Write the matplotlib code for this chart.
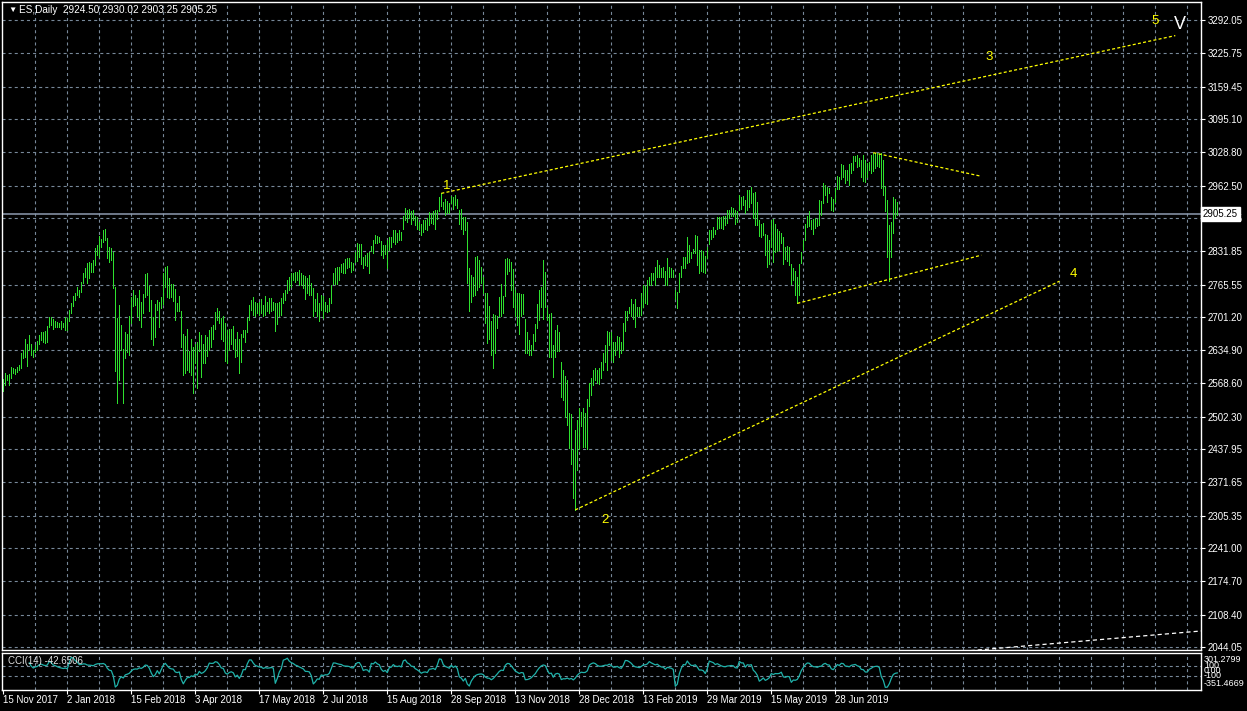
import numpy as np
import matplotlib
matplotlib.use('Agg')
import matplotlib.pyplot as plt
from matplotlib.transforms import blended_transform_factory

plt.rcParams['font.family'] = ['Liberation Sans', 'DejaVu Sans']
plt.rcParams['lines.scale_dashes'] = False

# ES Daily - highs / lows (une barre par séance)
highs = [
    2577, 2589, 2585, 2587, 2601, 2599, 2597, 2602, 2605, 2629, 2635, 2658, 2648, 2665, 2648, 2635,
    2645, 2653, 2665, 2672, 2672, 2674, 2683, 2700, 2700, 2696, 2692, 2690, 2688, 2692, 2688, 2700,
    2698, 2715, 2729, 2743, 2749, 2760, 2755, 2771, 2788, 2798, 2808, 2811, 2808, 2814, 2838, 2844,
    2862, 2856, 2874, 2877, 2858, 2841, 2838, 2831, 2761, 2698, 2725, 2685, 2637, 2672, 2667, 2702,
    2741, 2755, 2745, 2738, 2755, 2731, 2747, 2786, 2789, 2763, 2735, 2700, 2727, 2735, 2731, 2741,
    2789, 2800, 2802, 2778, 2767, 2767, 2756, 2728, 2743, 2712, 2668, 2663, 2678, 2634, 2658, 2642,
    2648, 2652, 2672, 2665, 2648, 2665, 2662, 2675, 2682, 2685, 2711, 2718, 2713, 2698, 2702, 2688,
    2675, 2678, 2678, 2683, 2658, 2672, 2658, 2668, 2676, 2675, 2698, 2725, 2735, 2740, 2731, 2728,
    2731, 2736, 2725, 2743, 2731, 2738, 2738, 2731, 2728, 2728, 2731, 2738, 2748, 2755, 2775, 2781,
    2789, 2789, 2791, 2791, 2795, 2788, 2785, 2783, 2778, 2785, 2768, 2758, 2736, 2748, 2728, 2745,
    2743, 2731, 2725, 2738, 2765, 2788, 2798, 2800, 2801, 2806, 2808, 2816, 2818, 2818, 2811, 2808,
    2831, 2849, 2846, 2846, 2821, 2824, 2828, 2831, 2842, 2854, 2864, 2862, 2861, 2852, 2844, 2844,
    2854, 2860, 2860, 2875, 2874, 2869, 2874, 2871, 2901, 2917, 2914, 2915, 2911, 2913, 2901, 2899,
    2891, 2887, 2893, 2894, 2897, 2909, 2907, 2911, 2913, 2914, 2940, 2947, 2930, 2935, 2932, 2928,
    2942, 2939, 2944, 2935, 2914, 2915, 2899, 2899, 2891, 2798, 2785, 2780, 2820, 2822, 2814, 2800,
    2781, 2748, 2748, 2723, 2692, 2707, 2705, 2702, 2740, 2767, 2743, 2816, 2818, 2816, 2811, 2796,
    2755, 2748, 2748, 2747, 2747, 2696, 2672, 2655, 2645, 2668, 2687, 2727, 2755, 2761, 2814, 2790,
    2721, 2707, 2708, 2645, 2675, 2684, 2672, 2612, 2595, 2583, 2575, 2509, 2507, 2436, 2476, 2496,
    2519, 2512, 2519, 2509, 2537, 2569, 2579, 2595, 2599, 2595, 2599, 2612, 2629, 2645, 2674, 2672,
    2672, 2652, 2652, 2663, 2662, 2652, 2688, 2713, 2713, 2721, 2736, 2727, 2736, 2721, 2721, 2748,
    2765, 2763, 2774, 2781, 2789, 2789, 2801, 2814, 2804, 2798, 2801, 2793, 2818, 2800, 2798, 2794,
    2755, 2751, 2788, 2802, 2821, 2821, 2860, 2844, 2831, 2836, 2865, 2863, 2834, 2834, 2833, 2822,
    2840, 2875, 2874, 2881, 2875, 2899, 2899, 2899, 2902, 2901, 2914, 2914, 2920, 2917, 2914, 2912,
    2944, 2940, 2942, 2934, 2954, 2954, 2960, 2948, 2950, 2930, 2894, 2886, 2889, 2867, 2864, 2855,
    2893, 2895, 2887, 2877, 2873, 2869, 2860, 2841, 2842, 2841, 2806, 2798, 2793, 2781, 2806, 2831,
    2854, 2886, 2902, 2912, 2894, 2895, 2897, 2895, 2934, 2932, 2968, 2964, 2960, 2957, 2939, 2935,
    2957, 2981, 2980, 3005, 3003, 2993, 2993, 3005, 3008, 3021, 3021, 3023, 3017, 3013, 3023, 3013,
    3008, 3010, 3023, 3028, 3028, 3027, 3025, 3027, 3013, 2962, 2934, 2884, 2891, 2939, 2935, 2930.02,
]
lows = [
    2554, 2566, 2575, 2566, 2579, 2589, 2587, 2592, 2595, 2599, 2619, 2622, 2604, 2635, 2625, 2622,
    2632, 2635, 2648, 2655, 2652, 2650, 2652, 2682, 2685, 2678, 2682, 2682, 2682, 2678, 2682, 2676,
    2675, 2692, 2708, 2723, 2735, 2745, 2741, 2751, 2768, 2781, 2768, 2778, 2791, 2791, 2804, 2824,
    2821, 2841, 2851, 2854, 2818, 2811, 2814, 2758, 2594, 2529, 2576, 2635, 2529, 2619, 2632, 2625,
    2688, 2722, 2725, 2702, 2695, 2682, 2708, 2741, 2745, 2713, 2658, 2645, 2662, 2715, 2682, 2718,
    2727, 2761, 2741, 2738, 2741, 2733, 2695, 2712, 2712, 2641, 2586, 2590, 2595, 2592, 2586, 2550,
    2609, 2559, 2634, 2582, 2609, 2610, 2623, 2635, 2642, 2658, 2678, 2695, 2688, 2658, 2654, 2614,
    2609, 2635, 2648, 2637, 2622, 2623, 2590, 2612, 2662, 2652, 2672, 2695, 2715, 2705, 2702, 2708,
    2705, 2708, 2702, 2705, 2712, 2708, 2712, 2715, 2674, 2687, 2702, 2705, 2728, 2735, 2748, 2755,
    2761, 2775, 2771, 2775, 2765, 2765, 2758, 2736, 2748, 2745, 2745, 2702, 2712, 2702, 2692, 2715,
    2698, 2712, 2710, 2712, 2729, 2767, 2767, 2767, 2775, 2791, 2788, 2789, 2798, 2801, 2791, 2794,
    2811, 2813, 2821, 2806, 2798, 2804, 2802, 2789, 2833, 2828, 2848, 2849, 2851, 2824, 2818, 2826,
    2798, 2834, 2841, 2851, 2846, 2851, 2854, 2854, 2877, 2894, 2891, 2897, 2887, 2894, 2884, 2877,
    2874, 2864, 2871, 2877, 2874, 2884, 2889, 2886, 2877, 2895, 2911, 2922, 2915, 2904, 2907, 2907,
    2927, 2915, 2924, 2917, 2887, 2877, 2866, 2874, 2768, 2712, 2731, 2743, 2745, 2755, 2761, 2768,
    2748, 2688, 2650, 2658, 2625, 2599, 2630, 2680, 2702, 2702, 2708, 2743, 2786, 2793, 2755, 2721,
    2702, 2685, 2668, 2702, 2707, 2630, 2630, 2625, 2625, 2635, 2654, 2680, 2695, 2721, 2696, 2721,
    2695, 2621, 2622, 2581, 2622, 2634, 2634, 2542, 2536, 2502, 2486, 2440, 2408, 2340, 2317, 2396,
    2438, 2483, 2443, 2443, 2438, 2524, 2546, 2566, 2575, 2569, 2568, 2579, 2595, 2612, 2595, 2645,
    2615, 2612, 2625, 2635, 2622, 2629, 2635, 2674, 2695, 2708, 2702, 2696, 2682, 2703, 2702, 2705,
    2721, 2728, 2727, 2765, 2765, 2774, 2765, 2781, 2781, 2780, 2781, 2765, 2765, 2780, 2781, 2781,
    2736, 2718, 2751, 2781, 2798, 2798, 2808, 2811, 2818, 2828, 2828, 2804, 2788, 2793, 2791, 2788,
    2818, 2846, 2857, 2861, 2867, 2877, 2879, 2879, 2877, 2884, 2889, 2897, 2902, 2901, 2887, 2891,
    2914, 2915, 2924, 2907, 2914, 2920, 2927, 2897, 2884, 2884, 2862, 2861, 2864, 2824, 2800, 2806,
    2841, 2811, 2831, 2833, 2834, 2848, 2806, 2816, 2813, 2804, 2767, 2774, 2745, 2728, 2745, 2808,
    2834, 2854, 2881, 2882, 2877, 2866, 2879, 2882, 2884, 2904, 2927, 2944, 2930, 2947, 2914, 2912,
    2930, 2955, 2955, 2975, 2980, 2967, 2974, 2964, 2988, 2993, 3012, 3000, 3001, 2979, 2972, 2970,
    2980, 2993, 2987, 2992, 2997, 3001, 3000, 2957, 2944, 2912, 2820, 2773, 2821, 2869, 2897, 2903.25,
]
last_close = 2905.25

price_levels = [3292.05, 3225.75, 3159.45, 3095.10, 3028.80, 2962.50, 2898.15, 2831.85, 2765.55,
                2701.20, 2634.90, 2568.60, 2502.30, 2437.95, 2371.65, 2305.35, 2241.00, 2174.70,
                2108.40, 2044.05]
date_pos = [0, 32, 64, 96, 128, 160, 192, 224, 256, 288, 320, 352, 384, 416]
date_labels = ['15 Nov 2017', '2 Jan 2018', '15 Feb 2018', '3 Apr 2018', '17 May 2018', '2 Jul 2018',
               '15 Aug 2018', '28 Sep 2018', '13 Nov 2018', '28 Dec 2018', '13 Feb 2019',
               '29 Mar 2019', '15 May 2019', '28 Jun 2019']

# lignes de tendance (indice de barre, prix)
upper_x, upper_y = [219, 586], [2947, 3261]
lower_x, lower_y = [286, 528], [2317, 2772]
wedge_lo_x, wedge_lo_y = [397, 489], [2728, 2824]
wedge_hi_x, wedge_hi_y = [435, 489], [3028, 2981]
white_x, white_y = [480, 599], [2035.6, 2076]

wave_labels = ['1', '2', '3', '4', '5']
wave_x = [221.5, 301, 493, 535, 576]
wave_y = [2962, 2297, 3218, 2786, 3290]

BAR = '#2ee02e'
GRID = '#778899'
YEL = '#ffff00'

highs = np.array(highs, dtype=float)
lows = np.array(lows, dtype=float)
idx = np.arange(len(highs))

# CCI(14) sur le prix typique (H+L)/2
tp = (highs + lows) / 2
cci = np.full(len(tp), np.nan)
for i in range(13, len(tp)):
    w = tp[i - 13:i + 1]
    m = w.mean()
    d = np.abs(w - m).mean()
    cci[i] = (tp[i] - m) / (0.015 * d) if d > 0 else 0.0

W, H = 1247, 711
fig = plt.figure(figsize=(W / 100, H / 100), dpi=100, facecolor='black')


def px_axes(x0, y0, x1, y1):
    return fig.add_axes([x0 / W, 1 - y1 / H, (x1 - x0) / W, (y1 - y0) / H])


ax = px_axes(2, 2, 1201, 650)
axc = px_axes(2, 652.5, 1201, 689.5)
for a in (ax, axc):
    a.set_facecolor('black')
    for s in a.spines.values():
        s.set_color('white')
        s.set_linewidth(1)
    a.set_xlim(-0.65, 598.85)
    for k in range(16, 599, 16):
        a.axvline(k, color=GRID, lw=0.8, ls=(0, (2.2, 2.2)), zorder=0)

# graphique principal
ax.set_ylim(2038.1, 3327.9)
for p in price_levels:
    ax.axhline(p, color=GRID, lw=0.8, ls=(0, (2.2, 2.2)), zorder=0)
ax.axhline(last_close, color='#8d9bb0', lw=1.1, zorder=1)
ax.vlines(idx, lows, highs, colors=BAR, lw=0.5, antialiased=False, zorder=2)

ax.plot(upper_x, upper_y, color=YEL, lw=0.9, ls=(0, (2.2, 1.6)), zorder=3)
ax.plot(lower_x, lower_y, color=YEL, lw=0.9, ls=(0, (2.2, 1.6)), zorder=3)
ax.plot(wedge_lo_x, wedge_lo_y, color=YEL, lw=0.9, ls=(0, (2.2, 1.6)), zorder=3)
ax.plot(wedge_hi_x, wedge_hi_y, color=YEL, lw=0.9, ls=(0, (2.2, 1.6)), zorder=3)
ax.plot(white_x, white_y, color='white', lw=0.9, ls=(0, (3, 2.2)), zorder=3)

for lab, x, y in zip(wave_labels, wave_x, wave_y):
    ax.text(x, y, lab, color=YEL, fontsize=9.5, ha='center', va='center', zorder=4)
ax.text(588.5, 3283, 'V', color='white', fontsize=13, ha='center', va='center', zorder=4)

ax.set_xticks([])
ax.yaxis.tick_right()
ax.set_yticks(price_levels, [f'{p:.2f}' for p in price_levels])
ax.tick_params(axis='y', colors='white', length=3, width=0.8, labelsize=7, pad=2)

tr = blended_transform_factory(ax.transAxes, ax.transData)
ax.text(1.0015, last_close, f'{last_close:.2f}', transform=tr, color='black', fontsize=7,
        ha='left', va='center', clip_on=False, zorder=10,
        bbox=dict(boxstyle='square,pad=0.2', facecolor='white', edgecolor='white'))

fig.text(8 / W, 1 - 10 / H, '\u25bc', color='white', fontsize=6, va='center')
fig.text(19 / W, 1 - 10 / H, 'ES,Daily  2924.50 2930.02 2903.25 2905.25', color='white',
         fontsize=7.2, va='center')

# panneau CCI
axc.set_ylim(-349, 349)
for lv in (100, -100):
    axc.axhline(lv, color=GRID, lw=0.8, ls=(0, (2.2, 2.2)), zorder=0)
axc.plot(idx, cci, color='#20b2aa', lw=0.9)
axc.set_yticks([])
axc.set_xticks(date_pos, date_labels, ha='left')
axc.tick_params(axis='x', colors='white', length=3, width=0.8, labelsize=7, pad=1)

fig.text(8 / W, 1 - 661 / H, 'CCI(14) -42.6506', color='#e0e0e0', fontsize=7, va='center')
cci_labels = ['301.2799', '100', '0.00', '-100', '-351.4669']
cci_label_y = [660, 665, 670.5, 675.5, 683.3]
for s, y in zip(cci_labels, cci_label_y):
    fig.text(1204 / W, 1 - y / H, s, color='white', fontsize=6.5, va='center')

fig.savefig('out.png', dpi=100, facecolor='black')
